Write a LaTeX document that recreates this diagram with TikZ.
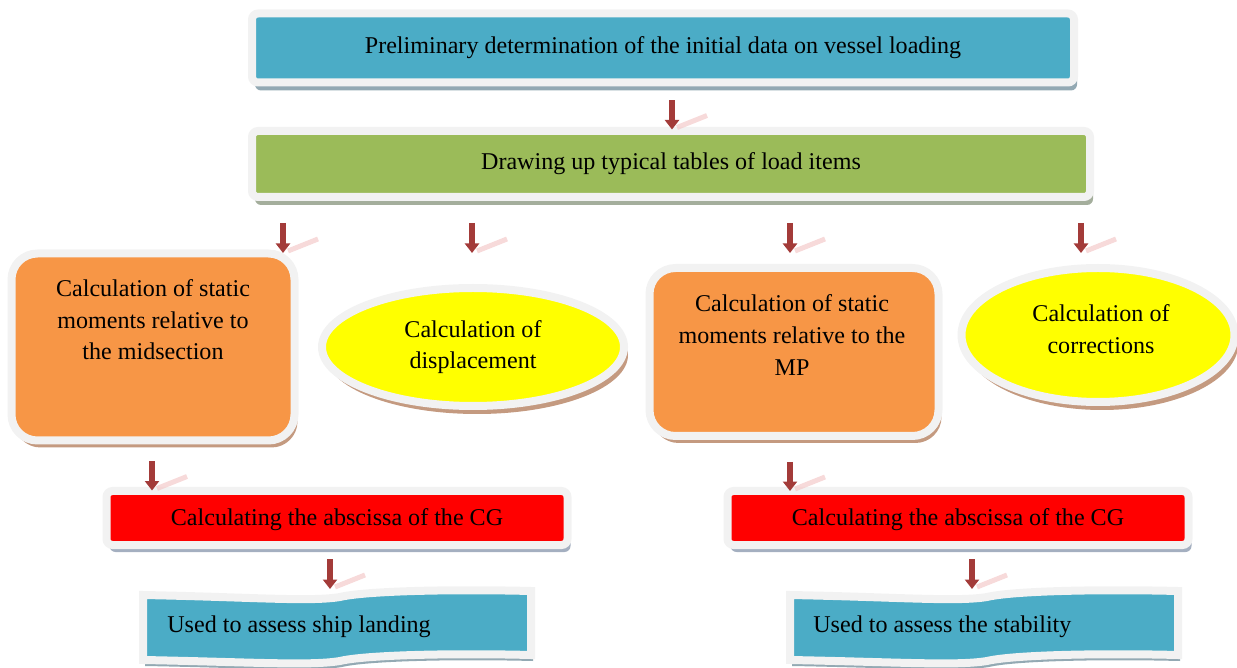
\documentclass[tikz,border=0pt]{standalone}
\usepackage{fontspec}
\setmainfont{Liberation Serif}
\usetikzlibrary{positioning}
\usetikzlibrary{shapes.geometric,shadows,arrows.meta,calc}

\newdimen\pxu
\pxu=0.02cm

\definecolor{framegrey}{HTML}{F2F2F2}
\definecolor{boxblue}{HTML}{4BACC6}
\definecolor{boxgreen}{HTML}{9BBB59}
\definecolor{boxorange}{HTML}{F79646}
\definecolor{boxyellow}{HTML}{FFFF00}
\definecolor{boxred}{HTML}{FF0000}
\definecolor{shblue}{HTML}{93A9B3}
\definecolor{shgreen}{HTML}{A4AE9C}
\definecolor{shbrown}{HTML}{C49A80}
\definecolor{shred}{HTML}{A4AFC0}
\definecolor{arrowred}{HTML}{A33B39}
\definecolor{reflpink}{HTML}{F4CACA}

\tikzset{
	txt/.style={font=\fontsize{13.7}{18}\selectfont, align=center, inner sep=0pt},
	framed/.style={txt, draw=framegrey, line width=8\pxu},
	flatbox/.style={framed, rounded corners=6\pxu},
	roundbox/.style={framed, rounded corners=26\pxu, fill=boxorange,
		drop shadow={shadow xshift=3\pxu, shadow yshift=-7\pxu, fill=shbrown, opacity=1}},
	oval/.style={framed, ellipse, fill=boxyellow,
		drop shadow={shadow xshift=4\pxu, shadow yshift=-8\pxu, fill=shbrown, opacity=1}},
	redbox/.style={flatbox, fill=boxred, minimum width=461\pxu, minimum height=54\pxu,
		text height=12pt, text depth=3pt,
		drop shadow={shadow xshift=3\pxu, shadow yshift=-7\pxu, fill=shred, opacity=1}},
	banner/.style={draw=framegrey, line width=8\pxu, fill=boxblue,
		drop shadow={shadow xshift=2\pxu, shadow yshift=-6\pxu, fill=shblue, opacity=1}},
	flowarrow/.style={draw=arrowred, line width=6.5\pxu, -{Triangle[width=0.28cm,length=0.19cm]}},
	reflect/.style={draw=reflpink, line width=5\pxu, opacity=0.7}
}

\begin{document}
\begin{tikzpicture}[x=1\pxu, y=-1\pxu]
	\useasboundingbox (0,0) rectangle (1237,668);
	
	% TOP BOX
	\node[flatbox, fill=boxblue, minimum width=822\pxu, minimum height=69\pxu,
		drop shadow={shadow xshift=3\pxu, shadow yshift=-8\pxu, fill=shblue, opacity=1}]
		(prelim) at (663,48) {Preliminary determination of the initial data on vessel loading};
	
	% SECOND BOX
	\node[flatbox, fill=boxgreen, minimum width=838\pxu, minimum height=66\pxu,
		drop shadow={shadow xshift=3\pxu, shadow yshift=-8\pxu, fill=shgreen, opacity=1}]
		(tables) at (671,164) {Drawing up typical tables of load items};
	
	% CALCULATIONS
	\node[roundbox, minimum width=283\pxu, minimum height=187\pxu] (calcmid) at (153,347) {};
	\node[txt] (calcmid-txt) at (153,320) {Calculation of static\\moments relative to\\the midsection};
	
	\node[oval, minimum width=302\pxu, minimum height=118\pxu] (displ) at (473,347) {Calculation of\\displacement};
	
	\node[roundbox, minimum width=289\pxu, minimum height=168\pxu] (calcmp) at (794,352) {};
	\node[txt] (calcmp-txt) at (792,335) {Calculation of static\\moments relative to the\\MP};
	
	\node[oval, minimum width=273\pxu, minimum height=134\pxu] (corr) at (1098,335) {};
	\node[txt] (corr-txt) at (1101,329) {Calculation of\\corrections};
	
	% ABSCISSA OF THE CG
	\node[redbox] (absleft) at (337,518) {Calculating the abscissa of the CG};
	\node[redbox] (absright) at (958,518) {Calculating the abscissa of the CG};
	
	% RESULTS
	\foreach \bx in {0,647}
		\draw[banner, shift={(\bx,0)}] (143,595) .. controls (250,597) and (310,602) .. (340,597)
			.. controls (365,591) and (450,589) .. (531,591) -- (531,655)
			.. controls (450,653) and (365,655) .. (340,661)
			.. controls (310,666) and (250,662) .. (143,660) -- cycle;
	\node[txt, anchor=west] (landing) at (167,627) {Used to assess ship landing};
	\node[txt, anchor=west] (stability) at (813,627) {Used to assess the stability};
	
	% ARROWS
	\coordinate (col-top) at (672,0);
	\coordinate (col-a) at (283,0);
	\coordinate (col-b) at (472,0);
	\coordinate (col-c) at (790,0);
	\coordinate (col-d) at (1081,0);
	\coordinate (col-e) at (152,0);
	\coordinate (col-f) at (330,0);
	\coordinate (col-g) at (972,0);
	
	\draw[flowarrow] ($(prelim.south -| col-top)+(0,14)$) -- ++(0,29) coordinate (tip1);
	\draw[reflect] ($(tip1)+(5,-2)$) -- ++(30,-12);
	
	\draw[flowarrow] ($(tables.south -| col-a)+(0,22)$) -- ++(0,30) coordinate (tip2);
	\draw[reflect] ($(tip2)+(5,-2)$) -- ++(30,-12);
	\draw[flowarrow] ($(tables.south -| col-b)+(0,22)$) -- ++(0,30) coordinate (tip3);
	\draw[reflect] ($(tip3)+(5,-2)$) -- ++(30,-12);
	\draw[flowarrow] ($(tables.south -| col-c)+(0,22)$) -- ++(0,30) coordinate (tip4);
	\draw[reflect] ($(tip4)+(5,-2)$) -- ++(30,-12);
	\draw[flowarrow] ($(tables.south -| col-d)+(0,22)$) -- ++(0,30) coordinate (tip5);
	\draw[reflect] ($(tip5)+(5,-2)$) -- ++(30,-12);
	
	\draw[flowarrow] ($(calcmid.south -| col-e)+(0,17)$) -- ++(0,29) coordinate (tip6);
	\draw[reflect] ($(tip6)+(5,-2)$) -- ++(30,-12);
	\draw[flowarrow] ($(calcmp.south -| col-c)+(0,22)$) -- ++(0,29) coordinate (tip7);
	\draw[reflect] ($(tip7)+(5,-2)$) -- ++(30,-12);
	
	\draw[flowarrow] ($(absleft.south -| col-f)+(0,10)$) -- ++(0,30) coordinate (tip8);
	\draw[reflect] ($(tip8)+(5,-2)$) -- ++(30,-12);
	\draw[flowarrow] ($(absright.south -| col-g)+(0,10)$) -- ++(0,30) coordinate (tip9);
	\draw[reflect] ($(tip9)+(5,-2)$) -- ++(30,-12);
\end{tikzpicture}
\end{document}
